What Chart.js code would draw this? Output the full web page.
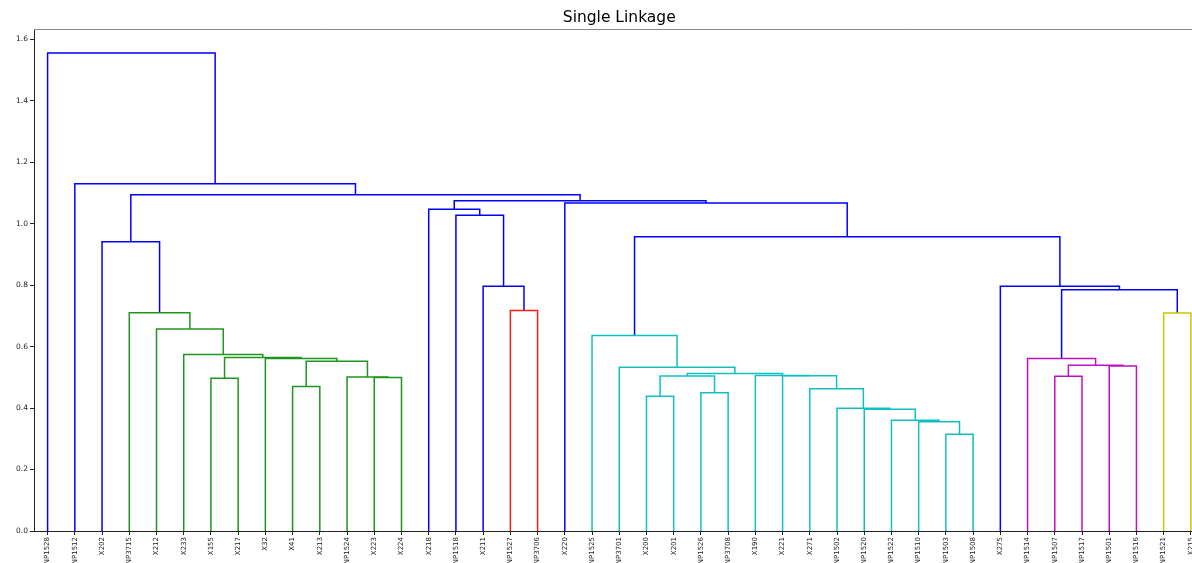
<!DOCTYPE html>
<html>
<head>
<meta charset="utf-8">
<title>Single Linkage</title>
<script src="https://cdn.jsdelivr.net/npm/chart.js@4.4.1/dist/chart.umd.min.js"></script>
<style>
  html, body { margin: 0; padding: 0; overflow: hidden; background: #fff; }
  #wrap { width: 1215px; height: 563px; position: relative; }
</style>
</head>
<body>
<div id="wrap"><canvas id="mycanvas"></canvas></div>
<script>
// leaf order along the x axis
var leaves = ['NP1528', 'NP1512', 'X202', 'NP3715', 'X212', 'X233', 'X155', 'X217', 'X32', 'X41',
  'X213', 'NP1524', 'X223', 'X224', 'X218', 'NP1518', 'X211', 'NP1527', 'NP3706', 'X220',
  'NP1525', 'NP3701', 'X200', 'X201', 'NP1526', 'NP3708', 'X190', 'X221', 'X271', 'NP1502',
  'NP1520', 'NP1522', 'NP1510', 'NP1503', 'NP1508', 'X275', 'NP1514', 'NP1507', 'NP1517', 'NP1501',
  'NP1516', 'NP1521', 'X215'];

// merges: name, left child, right child, height, cluster group
var linkNames  = ['g1', 'g2', 'g3', 'g4', 'g5', 'g6', 'g7', 'g8', 'g9', 'g10', 'b1',
  'r1', 'b2', 'b3', 'b4',
  'c1', 'c2', 'c3', 'n1', 'n2', 'n3', 'n4', 'n5', 'n6', 'n7', 'n8', 'c4', 'c5', 'c6',
  'm1', 'm2', 'm3', 'm4', 'y1', 'b5', 'b6', 'b7', 'b8', 'b9', 'b10', 'b11', 'b12'];
var linkLeft   = ['X155', 'X41', 'X223', 'NP1524', 'g2', 'X32', 'g1', 'X233', 'X212', 'NP3715', 'X202',
  'NP1527', 'X211', 'NP1518', 'X218',
  'X200', 'NP1526', 'c1', 'NP1503', 'NP1510', 'NP1522', 'NP1520', 'NP1502', 'X271', 'X221', 'X190', 'c3', 'NP3701', 'NP1525',
  'NP1507', 'NP1501', 'm1', 'NP1514', 'NP1521', 'm4', 'X275', 'c6', 'X220', 'b4', 'b1', 'NP1512', 'NP1528'];
var linkRight  = ['X217', 'X213', 'X224', 'g3', 'g4', 'g5', 'g6', 'g7', 'g8', 'g9', 'g10',
  'NP3706', 'r1', 'b2', 'b3',
  'X201', 'NP3708', 'c2', 'NP1508', 'n1', 'n2', 'n3', 'n4', 'n5', 'n6', 'n7', 'n8', 'c4', 'c5',
  'NP1517', 'NP1516', 'm2', 'm3', 'X215', 'y1', 'b5', 'b6', 'b7', 'b8', 'b9', 'b10', 'b11'];
var linkHeight = [0.497, 0.470, 0.499, 0.501, 0.552, 0.561, 0.564, 0.574, 0.657, 0.710, 0.941,
  0.717, 0.796, 1.027, 1.047,
  0.438, 0.450, 0.504, 0.315, 0.355, 0.360, 0.396, 0.399, 0.463, 0.505, 0.506, 0.512, 0.533, 0.636,
  0.503, 0.537, 0.539, 0.561, 0.709, 0.785, 0.796, 0.957, 1.067, 1.074, 1.094, 1.130, 1.555];
var linkGroup  = ['g', 'g', 'g', 'g', 'g', 'g', 'g', 'g', 'g', 'g', 'b',
  'r', 'b', 'b', 'b',
  'c', 'c', 'c', 'c', 'c', 'c', 'c', 'c', 'c', 'c', 'c', 'c', 'c', 'c',
  'm', 'm', 'm', 'm', 'y', 'b', 'b', 'b', 'b', 'b', 'b', 'b', 'b'];

var yTicks = [0.0, 0.2, 0.4, 0.6, 0.8, 1.0, 1.2, 1.4, 1.6];

var groupColors = {
  b: '#0000ff', g: '#1f961f', r: '#ff1a1a', c: '#10c0c0', m: '#c010c0', y: '#c8c800'
};

// node positions (scipy style: leaf i sits at 5 + 10*i)
var nodeX = {}, nodeY = {};
for (var i in leaves) {
  nodeX[leaves[i]] = 5 + 10 * i;
  nodeY[leaves[i]] = 0;
}
var datasets = [];
for (var j = 0; j < linkNames.length; j++) {
  var l = linkLeft[j], r = linkRight[j], h = linkHeight[j];
  nodeX[linkNames[j]] = (nodeX[l] + nodeX[r]) / 2;
  nodeY[linkNames[j]] = h;
  datasets.push({
    data: [
      {x: nodeX[l], y: nodeY[l]},
      {x: nodeX[l], y: h},
      {x: nodeX[r], y: h},
      {x: nodeX[r], y: nodeY[r]}
    ],
    showLine: true,
    borderColor: groupColors[linkGroup[j]],
    borderWidth: 1.5,
    pointRadius: 0,
    fill: false,
    tension: 0
  });
}

// top spine, like matplotlib's box
var frame = {
  id: 'frame',
  afterDraw: function(chart) {
    var a = chart.chartArea, ctx = chart.ctx;
    ctx.save();
    ctx.strokeStyle = '#888';
    ctx.lineWidth = 1;
    ctx.beginPath();
    ctx.moveTo(a.left, a.top + 0.5);
    ctx.lineTo(a.right, a.top + 0.5);
    ctx.lineTo(a.right, a.bottom);
    ctx.stroke();
    ctx.restore();
  }
};

var ctx = document.getElementById('mycanvas');
var dendro = new Chart(ctx, {
  type: 'scatter',
  data: { datasets: datasets },
  plugins: [frame],
  options: {
    responsive: true,
    maintainAspectRatio: false,
    animation: false,
    layout: { padding: { left: 0, right: 10.5, top: 0, bottom: 0 } },
    plugins: {
      legend: { display: false },
      tooltip: { enabled: false },
      title: {
        display: true,
        fullSize: false,
        text: 'Single Linkage',
        color: '#000',
        font: { family: 'DejaVu Sans', size: 15.5, weight: 'normal' },
        padding: { top: 8.4, bottom: 2 }
      }
    },
    scales: {
      x: {
        type: 'linear',
        min: 0,
        max: 10 * leaves.length,
        afterBuildTicks: function(axis) {
          axis.ticks = leaves.map(function(lab, k) { return {value: 5 + 10 * k}; });
        },
        afterFit: function(scale) { scale.height = 32; },
        ticks: {
          autoSkip: false,
          minRotation: 90,
          maxRotation: 90,
          padding: 2,
          color: '#222',
          font: { family: 'DejaVu Sans', size: 7 },
          callback: function(value, index) { return leaves[index]; }
        },
        grid: { drawOnChartArea: false, drawTicks: true, tickLength: 4, color: '#222' },
        border: { color: '#222', width: 1 }
      },
      y: {
        type: 'linear',
        min: 0,
        max: 1.633,
        afterBuildTicks: function(axis) {
          axis.ticks = yTicks.map(function(v) { return {value: v}; });
        },
        afterFit: function(scale) { scale.width = 34; },
        ticks: {
          padding: 2,
          color: '#222',
          font: { family: 'DejaVu Sans', size: 7.5 },
          callback: function(value) { return value.toFixed(1); }
        },
        grid: { drawOnChartArea: false, drawTicks: true, tickLength: 4, color: '#222' },
        border: { color: '#222', width: 1 }
      }
    }
  }
});
</script>
</body>
</html>
